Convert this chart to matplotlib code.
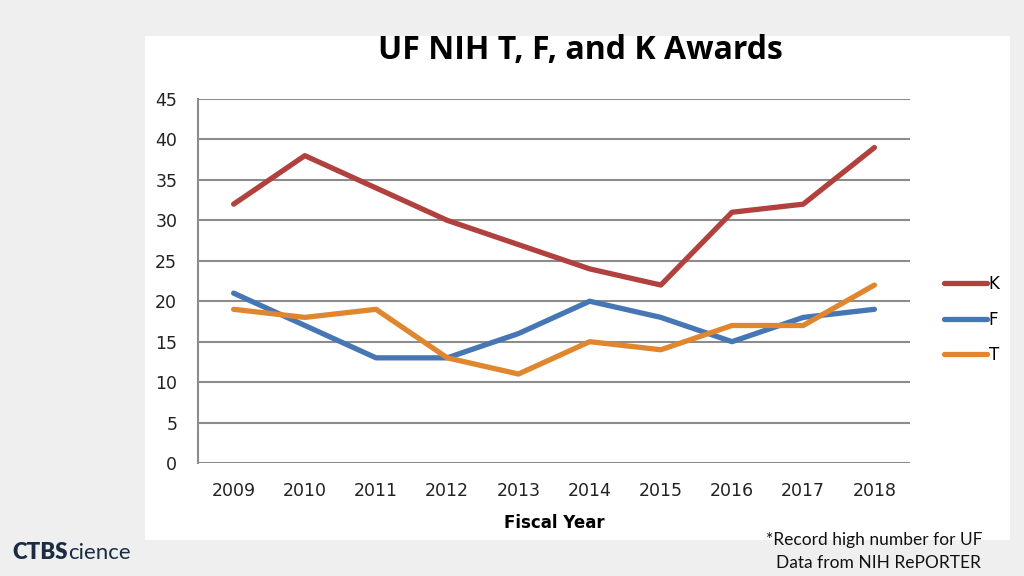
import matplotlib.pyplot as plt
from matplotlib.patches import Rectangle

years = ['2009', '2010', '2011', '2012', '2013', '2014', '2015', '2016', '2017', '2018']
k_awards = [32, 38, 34, 30, 27, 24, 22, 31, 32, 39]
f_awards = [21, 17, 13, 13, 16, 20, 18, 15, 18, 19]
t_awards = [19, 18, 19, 13, 11, 15, 14, 17, 17, 22]

fig = plt.figure(figsize=(10.24, 5.76), dpi=100)
fig.patch.set_facecolor('#efefef')

# white slide panel behind the chart
fig.patches.append(Rectangle((0.1416, 0.0625), 0.8447, 0.875, transform=fig.transFigure,
                             facecolor='white', edgecolor='none', zorder=-10))

ax = fig.add_axes([0.1934, 0.1962, 0.6953, 0.6319])
ax.set_facecolor('none')

x = range(len(years))
ax.plot(x, k_awards, color='#b0413e', lw=3.8, label='K', solid_capstyle='round')
ax.plot(x, f_awards, color='#4677b4', lw=3.8, label='F', solid_capstyle='round')
ax.plot(x, t_awards, color='#e0862e', lw=3.8, label='T', solid_capstyle='round')

ax.set_xlim(-0.5, 9.5)
ax.set_ylim(0, 45)
ax.set_yticks(range(0, 46, 5))
ax.set_xticks(list(x))
ax.set_xticklabels(years)
ax.grid(axis='y', color='#8c8c8c', lw=1.5)
ax.set_axisbelow(True)
for s in ['top', 'right', 'bottom']:
    ax.spines[s].set_visible(False)
ax.spines['left'].set_color('#8c8c8c')
ax.spines['left'].set_linewidth(1.5)
ax.tick_params(axis='both', length=0, labelsize=12.5, colors='#222222')
ax.tick_params(axis='y', pad=15)
ax.tick_params(axis='x', pad=14)

ax.set_xlabel('Fiscal Year', fontsize=12, fontweight='bold', labelpad=10)
fig.text(0.5665, 0.913, 'UF NIH T, F, and K Awards', ha='center', va='center',
         fontsize=23, fontweight='bold', family='Open Sans')

fig.legend(loc='center left', bbox_to_anchor=(0.907, 0.445), frameon=False,
           fontsize=12, handlelength=2.6, handletextpad=0.1, labelspacing=1.05)

# footer text
logo = fig.text(0.012, 0.04, 'CTBS', fontsize=16, fontweight='heavy', color='#1b2c42',
                va='center', family='Lato')
ax.annotate('cience', xy=(1, 0.5), xycoords=logo, va='center', ha='left',
            fontsize=16, color='#1b2c42', family='Lato', annotation_clip=False)
fig.text(0.748, 0.062, '*Record high number for UF', fontsize=12.5, va='center',
         family='Lato', color='#111111')
fig.text(0.758, 0.022, 'Data from NIH RePORTER', fontsize=12.5, va='center',
         family='Lato', color='#111111')

fig.savefig('out.png', dpi=100, facecolor=fig.get_facecolor())
